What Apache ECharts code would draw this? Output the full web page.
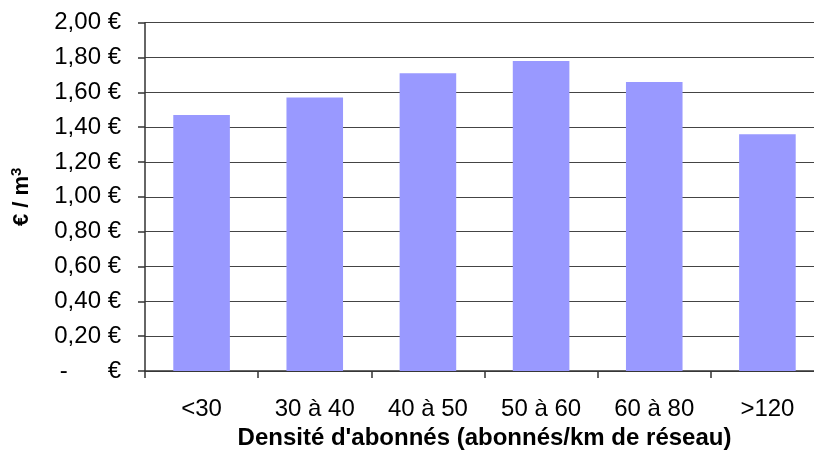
<!DOCTYPE html>
<html>
<head>
<meta charset="utf-8">
<script src="https://cdn.jsdelivr.net/npm/echarts@6/dist/echarts.min.js"></script>
<style>
  html, body { margin: 0; padding: 0; background: #fff; }
  #chart { width: 814px; height: 450px; }
</style>
</head>
<body>
<div id="chart"></div>
<script>
// Categories: subscriber density bands
const categories = ['<30', '30 à 40', '40 à 50', '50 à 60', '60 à 80', '>120'];
// Price per m³ (€) for each density band
const prices = [1.47, 1.57, 1.71, 1.78, 1.66, 1.36];
// Axis range
const yMin = 0;
const yMax = 2;
const yStep = 0.2;

const FONT = '"Liberation Sans", Arial, sans-serif';

function euro(v) {
  if (Math.abs(v) < 1e-9) return '-      €';
  return v.toFixed(2).replace('.', ',') + ' €';
}

const chart = echarts.init(document.getElementById('chart'));
chart.setOption({
  animation: false,
  backgroundColor: '#ffffff',
  grid: { left: 145, top: 22.7, width: 679, bottom: 79, containLabel: false, outerBoundsMode: 'none' },
  xAxis: {
    type: 'category',
    data: categories,
    name: "Densité d'abonnés (abonnés/km de réseau)",
    nameLocation: 'middle',
    nameGap: 55,
    nameTextStyle: { fontFamily: FONT, fontSize: 24, fontWeight: 'bold', color: '#000' },
    axisLine: { lineStyle: { color: '#333', width: 1.5 } },
    axisTick: { show: true, alignWithLabel: false, length: 7, lineStyle: { color: '#333', width: 1.5 } },
    axisLabel: { fontFamily: FONT, fontSize: 24, color: '#000', margin: 26 },
    splitLine: { show: false }
  },
  yAxis: {
    type: 'value',
    min: yMin,
    max: yMax,
    interval: yStep,
    name: '{a|€ / m}{sup|3}',
    nameLocation: 'middle',
    nameGap: 110,
    nameRotate: 90,
    nameTextStyle: {
      fontFamily: FONT, fontSize: 22, fontWeight: 'bold', color: '#000',
      rich: {
        a: { fontFamily: FONT, fontSize: 22, fontWeight: 'bold', color: '#000', lineHeight: 26 },
        sup: { fontFamily: FONT, fontSize: 15, fontWeight: 'bold', color: '#000', verticalAlign: 'top', lineHeight: 26, padding: [0, 0, 12, 0] }
      }
    },
    axisLine: { show: true, lineStyle: { color: '#333', width: 1.5 } },
    axisTick: { show: true, inside: false, length: 7, lineStyle: { color: '#333', width: 1.5 } },
    axisLabel: { fontFamily: FONT, fontSize: 24, color: '#000', margin: 24, formatter: euro },
    splitLine: { show: true, lineStyle: { color: '#444', width: 1.2 } }
  },
  series: [{
    type: 'bar',
    data: prices,
    barWidth: '50%',
    itemStyle: { color: '#9999FF' }
  }]
});
</script>
</body>
</html>
